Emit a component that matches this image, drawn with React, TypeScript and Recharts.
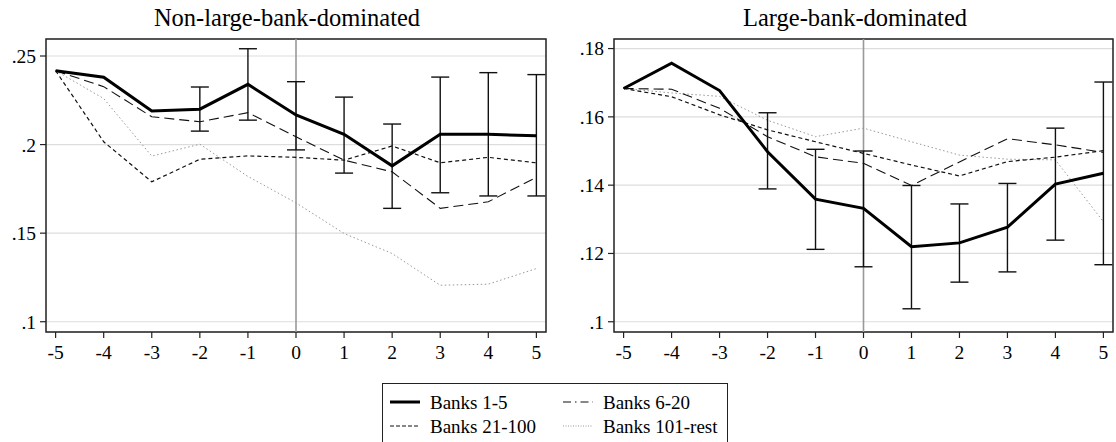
import { LineChart, Line, XAxis, YAxis, CartesianGrid, ReferenceLine, ReferenceArea, ErrorBar } from "recharts";

const periods = [-5, -4, -3, -2, -1, 0, 1, 2, 3, 4, 5];
const seriesNames = ["Banks 1-5", "Banks 6-20", "Banks 21-100", "Banks 101-rest"];

// Non-large-bank-dominated
const nlBanks1to5 = [0.2417, 0.238, 0.219, 0.22, 0.234, 0.2167, 0.2058, 0.188, 0.2058, 0.2058, 0.205];
const nlBanks6to20 = [0.2417, 0.2327, 0.2157, 0.2129, 0.218, 0.2044, 0.1912, 0.1846, 0.164, 0.1677, 0.1815];
const nlBanks21to100 = [0.2417, 0.2016, 0.179, 0.1917, 0.1936, 0.1928, 0.1912, 0.1992, 0.1897, 0.1928, 0.1897];
const nlBanks101rest = [0.2417, 0.226, 0.1935, 0.2002, 0.182, 0.1671, 0.1498, 0.1385, 0.1206, 0.1212, 0.13];
const nlCiLow = [null, null, null, 0.2076, 0.2138, 0.197, 0.1839, 0.164, 0.1728, 0.171, 0.171];
const nlCiHigh = [null, null, null, 0.2325, 0.2541, 0.2355, 0.2268, 0.2116, 0.2381, 0.2406, 0.2395];
const nlYTicks = [0.1, 0.15, 0.2, 0.25];

// Large-bank-dominated
const lgBanks1to5 = [0.1683, 0.1757, 0.1677, 0.1498, 0.1359, 0.1332, 0.122, 0.1231, 0.1277, 0.1403, 0.1435];
const lgBanks6to20 = [0.1683, 0.1681, 0.1625, 0.1542, 0.1483, 0.1464, 0.1399, 0.1468, 0.1536, 0.1518, 0.1496];
const lgBanks21to100 = [0.1683, 0.1659, 0.1606, 0.1562, 0.1527, 0.1493, 0.1459, 0.1427, 0.1469, 0.1482, 0.1501];
const lgBanks101rest = [0.1683, 0.167, 0.166, 0.159, 0.1542, 0.1567, 0.1527, 0.1488, 0.1476, 0.1474, 0.1293];
const lgCiLow = [null, null, null, 0.1389, 0.1212, 0.1161, 0.1038, 0.1116, 0.1146, 0.1239, 0.1167];
const lgCiHigh = [null, null, null, 0.1612, 0.1505, 0.15, 0.1399, 0.1345, 0.1405, 0.1567, 0.1702];
const lgYTicks = [0.1, 0.12, 0.14, 0.16, 0.18];

const FONT = "'Liberation Serif', 'Times New Roman', serif";

function buildRows(b1: number[], b2: number[], b3: number[], b4: number[], lo: (number | null)[], hi: (number | null)[]) {
  return periods.map((t, i) => {
    const l = lo[i];
    const h = hi[i];
    return {
      t,
      b1: b1[i],
      b2: b2[i],
      b3: b3[i],
      b4: b4[i],
      err: l != null && h != null ? [b1[i] - l, h - b1[i]] : undefined,
    };
  });
}

// .25, .2, .1 style labels
const fmt = (v: number) => v.toFixed(2).replace(/^0/, "").replace(/0$/, "");

interface PanelProps {
  title: string;
  rows: any[];
  domain: [number, number];
  yTicks: number[];
  left: number;
  width: number;
  yWidth: number;
  rightMargin: number;
  titleCenter: number;
}

function Panel({ title, rows, domain, yTicks, left, width, yWidth, rightMargin, titleCenter }: PanelProps) {
  return (
    <>
      <div
        style={{
          position: "absolute",
          left: titleCenter - 200,
          width: 400,
          top: 6,
          textAlign: "center",
          fontSize: 24.5,
          lineHeight: 1,
          fontFamily: FONT,
        }}
      >
        {title}
      </div>
      <div style={{ position: "absolute", left, top: 0 }}>
        <LineChart width={width} height={370} data={rows} margin={{ top: 39, right: rightMargin, left: 0, bottom: 0 }}>
          <CartesianGrid vertical={false} stroke="#dddddd" strokeWidth={1.2} />
          <XAxis
            type="number"
            dataKey="t"
            domain={[-5.2, 5.2]}
            ticks={periods}
            interval={0}
            height={38}
            tickSize={6}
            tickMargin={7}
            axisLine={false}
            tickLine={{ stroke: "#222", strokeWidth: 1.2 }}
            tick={{ fontSize: 19.5, fill: "#000", fontFamily: FONT }}
          />
          <YAxis
            type="number"
            domain={domain}
            ticks={yTicks}
            interval={0}
            width={yWidth}
            tickSize={6}
            tickMargin={4}
            axisLine={false}
            tickFormatter={fmt}
            tickLine={{ stroke: "#222", strokeWidth: 1.2 }}
            tick={{ fontSize: 19.5, fill: "#000", fontFamily: FONT }}
          />
          <ReferenceLine x={0} stroke="#999" strokeWidth={1.6} />
          <ReferenceArea x1={-5.2} x2={5.2} y1={domain[0]} y2={domain[1]} fill="none" fillOpacity={0} stroke="#222" strokeWidth={1.5} />
          <Line dataKey="b4" name={seriesNames[3]} stroke="#999" strokeWidth={1} strokeDasharray="1.5 2.5" dot={false} isAnimationActive={false} />
          <Line dataKey="b3" name={seriesNames[2]} stroke="#111" strokeWidth={1.2} strokeDasharray="4 3" dot={false} isAnimationActive={false} />
          <Line dataKey="b2" name={seriesNames[1]} stroke="#111" strokeWidth={1.1} strokeDasharray="10 5" dot={false} isAnimationActive={false} />
          <Line dataKey="b1" name={seriesNames[0]} stroke="#000" strokeWidth={3} dot={false} isAnimationActive={false}>
            <ErrorBar dataKey="err" direction="y" width={9} stroke="#111" strokeWidth={1.4} />
          </Line>
        </LineChart>
      </div>
    </>
  );
}

function LegendSample({ kind }: { kind: number }) {
  const styles = [
    { stroke: "#000", strokeWidth: 3, dash: undefined },
    { stroke: "#111", strokeWidth: 1.1, dash: "8 4 1.5 4" },
    { stroke: "#111", strokeWidth: 1.1, dash: "4 2" },
    { stroke: "#999", strokeWidth: 1, dash: "1 1.5" },
  ];
  const s = styles[kind];
  return (
    <svg width={30} height={10} style={{ display: "block" }}>
      <line x1={0} y1={5} x2={30} y2={5} stroke={s.stroke} strokeWidth={s.strokeWidth} strokeDasharray={s.dash} />
    </svg>
  );
}

export default function App() {
  const nlRows = buildRows(nlBanks1to5, nlBanks6to20, nlBanks21to100, nlBanks101rest, nlCiLow, nlCiHigh);
  const lgRows = buildRows(lgBanks1to5, lgBanks6to20, lgBanks21to100, lgBanks101rest, lgCiLow, lgCiHigh);
  const legendCells = [
    { kind: 0, x: 7, y: 8 },
    { kind: 1, x: 180, y: 8 },
    { kind: 2, x: 7, y: 32 },
    { kind: 3, x: 180, y: 32 },
  ];

  return (
    <div style={{ position: "relative", width: 1116, height: 442, background: "#fff", fontFamily: FONT, overflow: "hidden" }}>
      <style>{"body{margin:0}"}</style>
      <Panel
        title="Non-large-bank-dominated"
        rows={nlRows}
        domain={[0.0942, 0.2596]}
        yTicks={nlYTicks}
        left={0}
        width={560}
        yWidth={46}
        rightMargin={14}
        titleCenter={287}
      />
      <Panel
        title="Large-bank-dominated"
        rows={lgRows}
        domain={[0.097, 0.1828]}
        yTicks={lgYTicks}
        left={560}
        width={556}
        yWidth={54}
        rightMargin={3}
        titleCenter={855}
      />
      <div
        style={{
          position: "absolute",
          left: 382,
          top: 383,
          width: 346,
          height: 60,
          border: "1.3px solid #222",
          boxSizing: "border-box",
        }}
      >
        {legendCells.map((c) => (
          <div
            key={c.kind}
            style={{ position: "absolute", left: c.x, top: c.y, display: "flex", alignItems: "center", height: 20 }}
          >
            <LegendSample kind={c.kind} />
            <span style={{ marginLeft: 10, fontSize: 19, lineHeight: 1, whiteSpace: "nowrap" }}>{seriesNames[c.kind]}</span>
          </div>
        ))}
      </div>
    </div>
  );
}
